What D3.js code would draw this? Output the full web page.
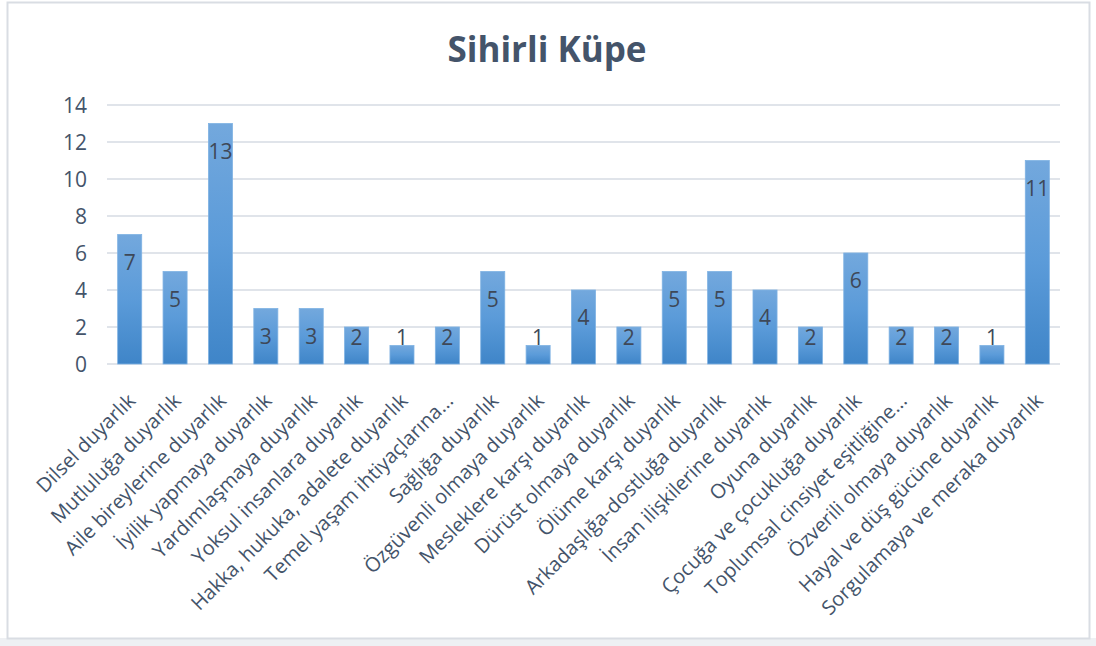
<!DOCTYPE html>
<html>
<head>
<meta charset="utf-8">
<script src="https://cdn.jsdelivr.net/npm/d3@7"></script>
<style>
  body { margin: 0; background: #ffffff; }
  text { font-family: "Open Sans", "Noto Sans", sans-serif; }
</style>
</head>
<body>
<svg id="chart"></svg>
<script>
//// data ////
const categories = [
  "Dilsel duyarlık", "Mutluluğa duyarlık", "Aile bireylerine duyarlık",
  "İyilik yapmaya duyarlık", "Yardımlaşmaya duyarlık", "Yoksul insanlara duyarlık",
  "Hakka, hukuka, adalete duyarlık", "Temel yaşam ihtiyaçlarına...", "Sağlığa duyarlık",
  "Özgüvenli olmaya duyarlık", "Mesleklere karşı duyarlık", "Dürüst olmaya duyarlık",
  "Ölüme karşı duyarlık", "Arkadaşlığa-dostluğa duyarlık", "İnsan ilişkilerine duyarlık",
  "Oyuna duyarlık", "Çocuğa ve çocukluğa duyarlık", "Toplumsal cinsiyet eşitliğine...",
  "Özverili olmaya duyarlık", "Hayal ve düş gücüne duyarlık", "Sorgulamaya ve meraka duyarlık"
];
const values = [7, 5, 13, 3, 3, 2, 1, 2, 5, 1, 4, 2, 5, 5, 4, 2, 6, 2, 2, 1, 11];
const yTicks = [0, 2, 4, 6, 8, 10, 12, 14];
const chartTitle = "Sihirli Küpe";

//// layout ////
const width = 1096, height = 646;
const margin = { top: 105, bottom: 282, left: 107, right: 36 };
const textColour = "#44546a";
const gridColour = "#e0e4ea";

const svg = d3.select("#chart").attr("width", width).attr("height", height);

// faint band under the frame
svg.append("rect")
  .attr("x", 0).attr("y", 638)
  .attr("width", width).attr("height", 8)
  .attr("fill", "#eef0f3");

// frame
svg.append("rect")
  .attr("x", 7.5).attr("y", 2.5)
  .attr("width", 1082).attr("height", 636)
  .attr("fill", "#fff")
  .attr("stroke", "#d9dde3")
  .attr("stroke-width", 2);

// gradient for the bars
const grad = svg.append("defs").append("linearGradient")
  .attr("id", "barGrad").attr("x1", 0).attr("x2", 0).attr("y1", 0).attr("y2", 1);
grad.append("stop").attr("offset", "0%").attr("stop-color", "#73a8dd");
grad.append("stop").attr("offset", "50%").attr("stop-color", "#5b9bd9");
grad.append("stop").attr("offset", "100%").attr("stop-color", "#3f85c8");

// scales
const x = d3.scaleBand()
  .domain(categories)
  .range([margin.left, width - margin.right])
  .paddingInner(0.47)
  .paddingOuter(0.235);

const y = d3.scaleLinear()
  .domain([0, 14])
  .range([height - margin.bottom, margin.top]);

// title
svg.append("text")
  .attr("x", 547).attr("y", 62)
  .attr("text-anchor", "middle")
  .attr("font-size", 35)
  .attr("font-weight", "bold")
  .attr("fill", textColour)
  .text(chartTitle);

// grid lines
svg.append("g")
  .selectAll("line")
  .data(yTicks)
  .join("line")
    .attr("x1", margin.left).attr("x2", width - margin.right)
    .attr("y1", d => y(d)).attr("y2", d => y(d))
    .attr("stroke", gridColour)
    .attr("stroke-width", 2);

// y axis labels
const yAxis = g => g
  .attr("transform", `translate(${margin.left}, 0)`)
  .call(d3.axisLeft(y).tickValues(yTicks).tickSize(0).tickPadding(20))
  .call(g => g.select(".domain").remove())
  .call(g => g.selectAll("text")
    .attr("fill", textColour)
    .attr("font-size", 21)
    .attr("dy", "0.36em")
    .style("font-family", "'Open Sans', sans-serif"));
svg.append("g").call(yAxis);

// bars
svg.append("g")
  .selectAll("rect")
  .data(values)
  .join("rect")
    .attr("x", (d, i) => x(categories[i]))
    .attr("y", d => y(d))
    .attr("width", x.bandwidth())
    .attr("height", d => y(0) - y(d))
    .attr("fill", "url(#barGrad)")
    .attr("stroke", "#7fb2e3")
    .attr("stroke-width", 0.8);

// value labels, inside end (pushed up when the bar is too short)
svg.append("g")
  .selectAll("text")
  .data(values)
  .join("text")
    .attr("x", (d, i) => x(categories[i]) + x.bandwidth() / 2)
    .attr("y", d => Math.min(y(d) + 35, y(0) - 19))
    .attr("text-anchor", "middle")
    .attr("font-size", 21)
    .attr("fill", "#3e4858")
    .text(d => d);

// x axis labels, rotated
const xAxis = g => g
  .attr("transform", `translate(0, ${y(0)})`)
  .call(d3.axisBottom(x).tickSize(0).tickPadding(0))
  .call(g => g.select(".domain").remove())
  .call(g => g.selectAll("text")
    .attr("fill", textColour)
    .attr("font-size", 20)
    .style("font-family", "'Open Sans', sans-serif")
    .attr("text-anchor", "end")
    .attr("dy", 0)
    .attr("y", 0)
    .attr("transform", "translate(7, 38) rotate(-45)"));
svg.append("g").call(xAxis);
</script>
</body>
</html>
